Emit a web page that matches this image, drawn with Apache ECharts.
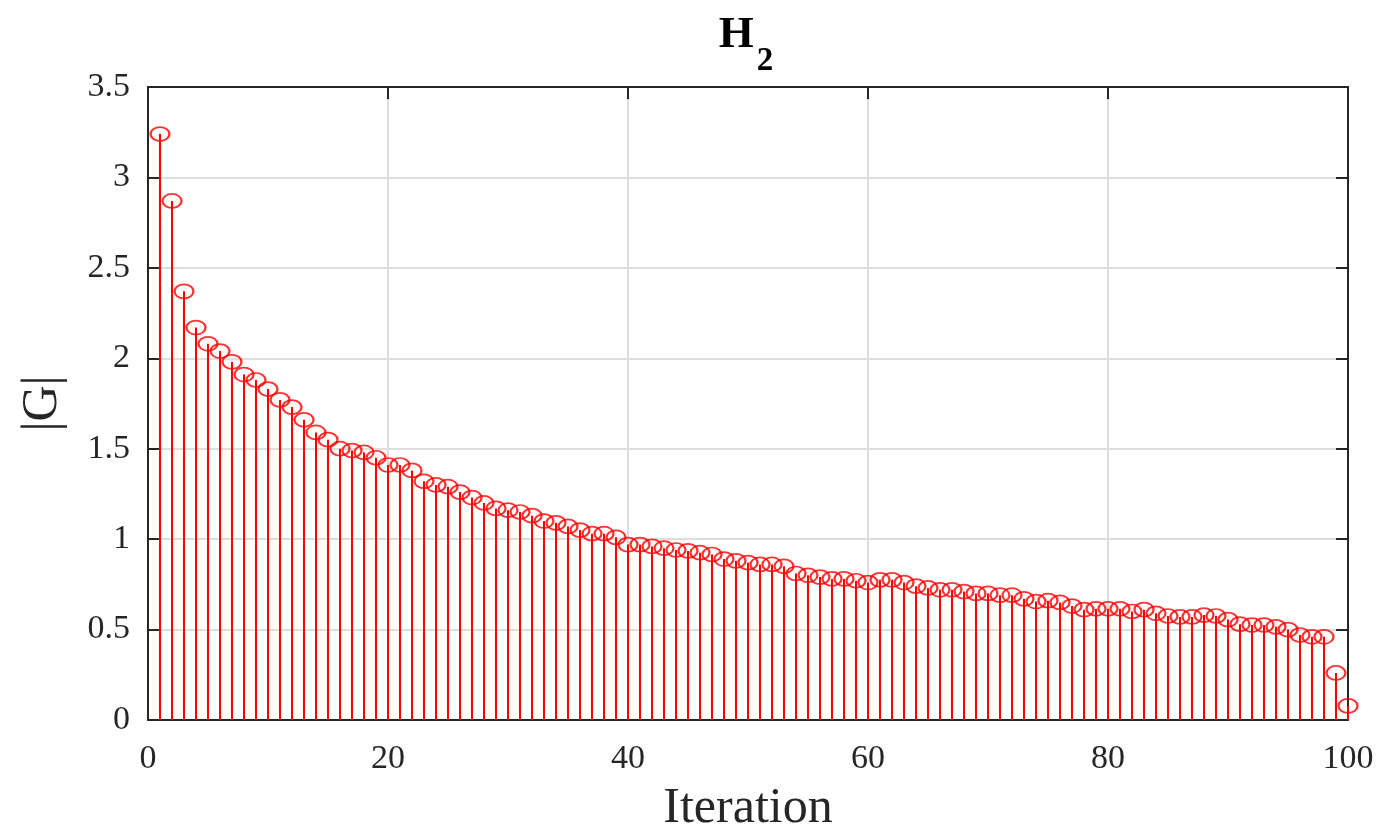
<!DOCTYPE html>
<html>
<head>
<meta charset="utf-8">
<title>H2</title>
<script src="https://cdn.jsdelivr.net/npm/echarts@6/dist/echarts.min.js"></script>
<style>
	html, body { margin: 0; padding: 0; background: #fff; }
	#chart { width: 1384px; height: 830px; }
</style>
</head>
<body>
<div id="chart"></div>
<script>
// iteration numbers 1..100 and |G|
var iterations = [
	1, 2, 3, 4, 5, 6, 7, 8, 9, 10,
	11, 12, 13, 14, 15, 16, 17, 18, 19, 20,
	21, 22, 23, 24, 25, 26, 27, 28, 29, 30,
	31, 32, 33, 34, 35, 36, 37, 38, 39, 40,
	41, 42, 43, 44, 45, 46, 47, 48, 49, 50,
	51, 52, 53, 54, 55, 56, 57, 58, 59, 60,
	61, 62, 63, 64, 65, 66, 67, 68, 69, 70,
	71, 72, 73, 74, 75, 76, 77, 78, 79, 80,
	81, 82, 83, 84, 85, 86, 87, 88, 89, 90,
	91, 92, 93, 94, 95, 96, 97, 98, 99, 100
];
var gradNorm = [
	3.24, 2.87, 2.37, 2.17, 2.08, 2.04, 1.98, 1.91, 1.88, 1.83,
	1.77, 1.73, 1.66, 1.59, 1.55, 1.50, 1.49, 1.48, 1.45, 1.41,
	1.41, 1.38, 1.32, 1.30, 1.29, 1.26, 1.23, 1.20, 1.17, 1.16,
	1.15, 1.13, 1.10, 1.09, 1.07, 1.05, 1.03, 1.03, 1.01, 0.97,
	0.97, 0.96, 0.95, 0.94, 0.935, 0.925, 0.915, 0.89, 0.88, 0.87,
	0.86, 0.86, 0.85, 0.81, 0.80, 0.79, 0.78, 0.78, 0.77, 0.76,
	0.775, 0.775, 0.76, 0.74, 0.73, 0.72, 0.72, 0.71, 0.70, 0.70,
	0.69, 0.69, 0.67, 0.655, 0.66, 0.65, 0.63, 0.61, 0.615, 0.615,
	0.615, 0.60, 0.61, 0.59, 0.575, 0.57, 0.57, 0.58, 0.575, 0.555,
	0.53, 0.525, 0.525, 0.515, 0.50, 0.47, 0.46, 0.46, 0.26, 0.078
];
var xTicks = [0, 20, 40, 60, 80, 100];
var yTicks = [0, 0.5, 1, 1.5, 2, 2.5, 3, 3.5];

var FONT = '"Liberation Serif", "DejaVu Serif", serif';
var AXIS_COLOR = '#262626';
var RED = '#ff0000';

var points = iterations.map(function(it, i){ return [it, gradNorm[i]]; });

var myChart = echarts.init(document.getElementById('chart'));

var boxAxis = function(extra){
	//frame side with inward ticks, no labels
	return Object.assign({
		type: 'value',
		axisLine: { show: true, onZero: false, lineStyle: { color: AXIS_COLOR, width: 2 } },
		axisTick: { show: true, inside: true, length: 12, lineStyle: { color: AXIS_COLOR, width: 2 } },
		axisLabel: { show: false },
		splitLine: { show: false }
	}, extra);
};

var option = {
	animation: false,
	backgroundColor: '#fff',
	title: {
		left: 741,
		top: 8,
		textAlign: 'center',
		text: '{h|H}{s|2}',
		textStyle: {
			rich: {
				h: { fontFamily: FONT, fontWeight: 'bold', fontSize: 45, color: '#000', lineHeight: 48, verticalAlign: 'top' },
				s: { fontFamily: FONT, fontWeight: 'bold', fontSize: 33, color: '#000', lineHeight: 48, padding: [32, 0, 0, 3], verticalAlign: 'top' }
			}
		}
	},
	grid: { left: 148, right: 36, top: 87, bottom: 110, containLabel: false, outerBoundsMode: 'none' },
	xAxis: [
		{
			type: 'value',
			min: 0, max: 100, interval: 20,
			position: 'bottom',
			name: 'Iteration',
			nameLocation: 'middle',
			nameGap: 64,
			nameTextStyle: { fontFamily: FONT, fontSize: 50, color: AXIS_COLOR },
			axisLine: { show: true, onZero: false, lineStyle: { color: AXIS_COLOR, width: 2 } },
			axisTick: { show: true, inside: true, length: 12, lineStyle: { color: AXIS_COLOR, width: 2 } },
			axisLabel: {
				fontFamily: FONT, fontSize: 34, color: AXIS_COLOR, margin: 22,
				customValues: xTicks
			},
			splitLine: { show: true, lineStyle: { color: '#dedede', width: 2 } }
		},
		boxAxis({ min: 0, max: 100, interval: 20, position: 'top' })
	],
	yAxis: [
		{
			type: 'value',
			min: 0, max: 3.5, interval: 0.5,
			position: 'left',
			name: '|G|',
			nameLocation: 'middle',
			nameGap: 80,
			nameTextStyle: { fontFamily: FONT, fontSize: 50, color: AXIS_COLOR },
			axisLine: { show: true, onZero: false, lineStyle: { color: AXIS_COLOR, width: 2 } },
			axisTick: { show: true, inside: true, length: 12, lineStyle: { color: AXIS_COLOR, width: 2 } },
			axisLabel: {
				fontFamily: FONT, fontSize: 34, color: AXIS_COLOR, margin: 18,
				customValues: yTicks
			},
			splitLine: { show: true, lineStyle: { color: '#dedede', width: 2 } }
		},
		boxAxis({ min: 0, max: 3.5, interval: 0.5, position: 'right' })
	],
	series: [
		{
			// stems
			type: 'bar',
			xAxisIndex: 0, yAxisIndex: 0,
			barWidth: 2,
			itemStyle: { color: RED },
			data: points,
			z: 3
		},
		{
			// hollow circle markers
			type: 'scatter',
			xAxisIndex: 0, yAxisIndex: 0,
			symbol: 'circle',
			symbolSize: [19, 14],
			itemStyle: { color: 'rgba(0,0,0,0)', borderColor: RED, borderWidth: 2 },
			data: points,
			z: 4
		}
	]
};
myChart.setOption(option);
</script>
</body>
</html>
